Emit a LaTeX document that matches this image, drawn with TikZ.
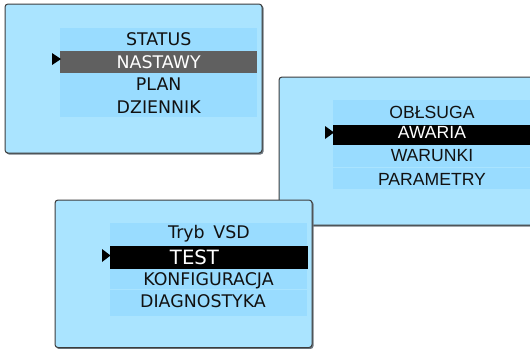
\documentclass[tikz,border=0pt]{standalone}
\usepackage{fontspec}
\newfontfamily\dvfont{DejaVu Sans}
\newfontfamily\libfont{Liberation Sans}
\definecolor{panelbg}{RGB}{170,228,255}
\definecolor{rowbg}{RGB}{153,220,255}
\definecolor{edge}{RGB}{60,60,60}
\definecolor{shade}{RGB}{110,120,128}
\definecolor{selgray}{RGB}{96,96,96}
\definecolor{ink}{RGB}{17,17,17}
\tikzset{
  panel/.style={fill=panelbg, draw=edge, line width=1pt, rounded corners=3pt},
  panelshadow/.style={fill=shade, rounded corners=3pt},
  rowband/.style={fill=rowbg},
  sep/.style={draw=panelbg, line width=1pt},
  pointer/.style={fill=black},
  itemA/.style={anchor=base, inner sep=0pt, text=ink, font=\dvfont\fontsize{17.4}{20}\selectfont},
  itemB/.style={anchor=base, inner sep=0pt, text=ink, font=\libfont\fontsize{17.6}{20}\selectfont},
  selA/.style={itemA, text=white},
  selB/.style={itemB, text=white},
}
\begin{document}
\begin{tikzpicture}[x=1pt, y=-1pt]
\useasboundingbox (0,0) rectangle (530,348);
\clip (0,0) rectangle (530,348);

% --- first menu: STATUS / NASTAWY / PLAN / DZIENNIK
\fill[panelshadow] (6,5) rectangle (263.5,154.5);
\draw[panel] (5,4) rectangle (262,153);
\fill[rowband] (60,28) rectangle (257,117);
\fill[selgray] (60,51) rectangle (257,73);
\fill[pointer] (52,53) -- (61,59) -- (52,65) -- cycle;
\node[itemA] (status) at (158.7,45) {STATUS};
\node[selA] (nastawy) at (158.7,68) {NASTAWY};
\node[itemA] (plan) at (158.7,90.5) {PLAN};
\node[itemA] (dziennik) at (158.7,113) {DZIENNIK};

% --- second menu: OBŁSUGA / AWARIA / WARUNKI / PARAMETRY
\fill[panelshadow] (280,78) rectangle (540,226.5);
\draw[panel] (279,77) rectangle (540,225);
\fill[rowband] (333,100) rectangle (540,189);
\fill[black] (333,124.5) rectangle (540,145);
\draw[sep] (333,167) -- (540,167);
\fill[pointer] (325,126) -- (334,132.5) -- (325,139) -- cycle;
\node[itemB] (obsluga) at (432,118.3) {OBŁSUGA};
\node[selB] (awaria) at (432,138.3) {AWARIA};
\node[itemB] (warunki) at (432,161.7) {WARUNKI};
\node[itemB] (parametry) at (432,185) {PARAMETRY};

% --- third menu: Tryb VSD / TEST / KONFIGURACJA / DIAGNOSTYKA
\fill[panelshadow] (56,201) rectangle (313.5,349);
\draw[panel] (55,200) rectangle (312,347.5);
\fill[rowband] (110,223) rectangle (307,316);
\fill[black] (110,246) rectangle (308,269.3);
\draw[sep] (110,289.5) -- (307,289.5);
\fill[pointer] (102,249) -- (110.5,255.5) -- (102,262) -- cycle;
\node[itemA] (tryb) at (209,238.3) {Tryb\hspace{0.5em}VSD};
\node[selA, font=\dvfont\fontsize{19.7}{22}\selectfont] (test) at (194.5,264.3) {TEST};
\node[itemA] (konf) at (208.5,285) {KONFIGURACJA};
\node[itemA] (diag) at (203,307.3) {DIAGNOSTYKA};
\end{tikzpicture}
\end{document}
